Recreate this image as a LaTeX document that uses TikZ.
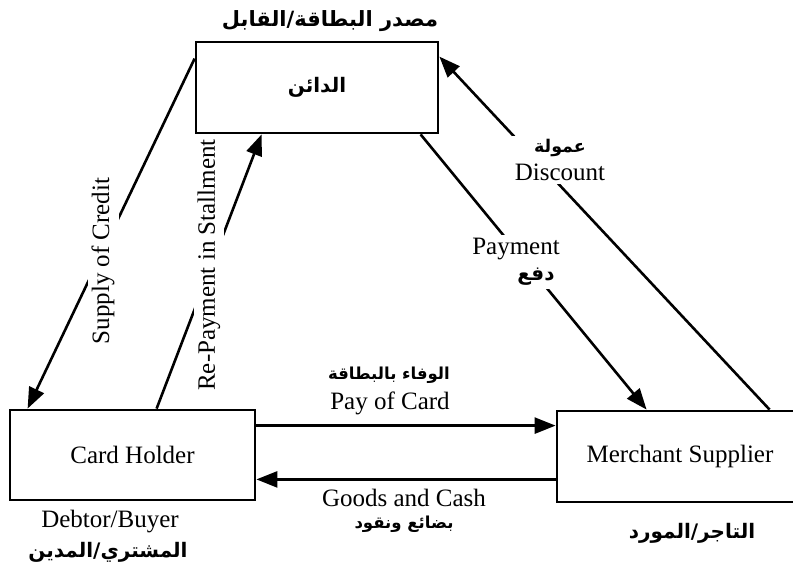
\documentclass[tikz,border=0pt]{standalone}
\usepackage{fontspec}
\setmainfont{Liberation Serif}
\newfontfamily\arabicfont[Script=Arabic]{DejaVu Sans}
\TeXXeTstate=1
\usetikzlibrary{arrows.meta}
\newcommand{\AR}[2][18]{{\fontsize{#1}{#1}\selectfont\arabicfont\bfseries\beginR #2\endR}}
\tikzset{
  every node/.style={font=\fontsize{25}{30}\selectfont},
  box/.style={draw, line width=2.8pt, inner sep=0pt},
  conn/.style={line width=2.6pt},
  arr/.style={conn, -{Triangle[length=21pt,width=16pt]}},
  lbl/.style={fill=white, inner sep=4pt},
  txt/.style={inner sep=0pt}
}
\begin{document}
\begin{tikzpicture}[x=1pt,y=-1pt]
\useasboundingbox (0,0) rectangle (793,574);
\fill[white] (0,0) rectangle (793,574);
% boxes
\node[box, minimum width=242pt, minimum height=91pt] (cred) at (317,87.5) {\AR[20]{الدائن}};
\node[box, minimum width=245pt, minimum height=90pt] (holder) at (132.5,455) {Card Holder};
\node[box, minimum width=246pt, minimum height=91pt] (merch) at (680,456.5) {Merchant Supplier};
% connectors
\draw[arr] ([yshift=-18pt]cred.north west) -- ([xshift=19pt]holder.north west);
\draw[arr] ([xshift=148pt]holder.north west) -- ([xshift=67pt]cred.south west);
\draw[arr] ([xshift=226pt]cred.south west) -- ([xshift=91pt]merch.north west);
\draw[arr] ([xshift=214pt]merch.north west) -- ([yshift=-16pt]cred.north east);
\draw[arr] ([yshift=-17pt]holder.north east) -- ([yshift=-16pt]merch.north west);
\draw[arr] ([yshift=24pt]merch.south west) -- ([yshift=22pt]holder.south east);
% connector labels
\node[lbl, rotate=90] (lsup) at (103,261) {Supply of Credit};
\node[lbl, rotate=90] (lrep) at (209,265) {Re-Payment in Stallment};
\node[lbl, align=center, inner sep=3pt] (lpay) at (516,262) {Payment\\[-4pt]\hspace*{40pt}\AR[20]{دفع}};
\node[lbl, align=center, inner sep=3pt] (ldis) at (560,160) {\AR[17.5]{عمولة}\\[-2pt]Discount};
\node[txt] (lpcar) at (389,375) {\AR[16.5]{الوفاء بالبطاقة}};
\node[txt] (lpcen) at (390,403) {Pay of Card};
\node[txt] (lgoen) at (404,498) {Goods and Cash};
\node[txt] (lgoar) at (404,524) {\AR[16.5]{بضائع ونقود}};
% box captions
\node[txt] (ctop) at (330,21) {\AR[21]{مصدر البطاقة/القابل}};
\node[txt] (cdeb) at (110,522) {Debtor/Buyer};
\node[txt] (cdar) at (108,552) {\AR[20]{المشتري/المدين}};
\node[txt] (cmar) at (692,533) {\AR[20]{التاجر/المورد}};
\end{tikzpicture}
\end{document}
